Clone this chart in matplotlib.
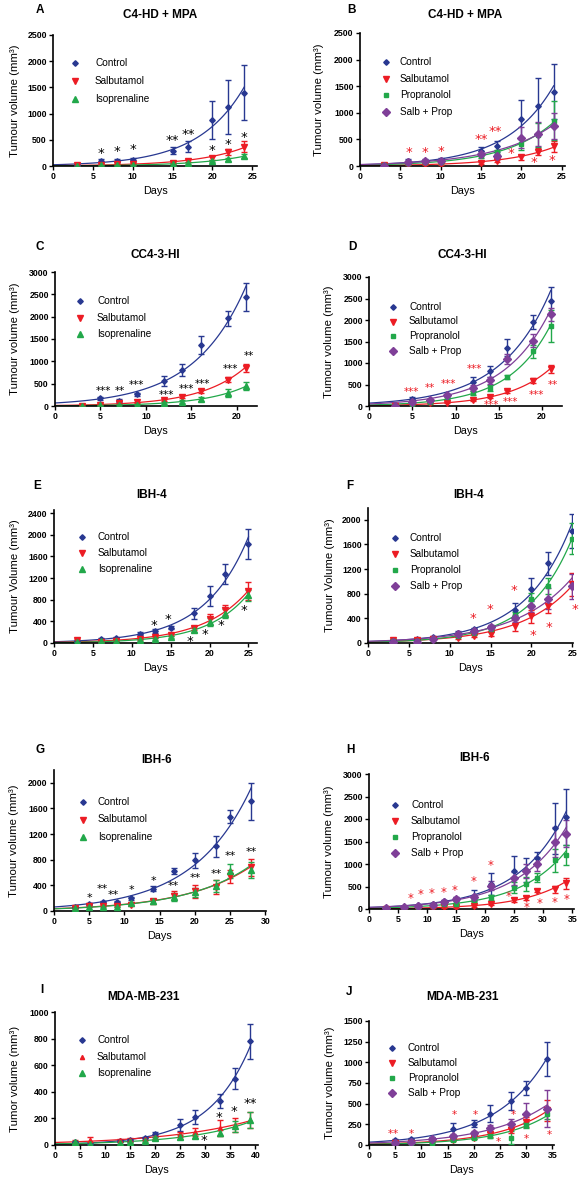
import numpy as np
import matplotlib
matplotlib.use('Agg')
import matplotlib.pyplot as plt
from matplotlib.lines import Line2D
from matplotlib.transforms import offset_copy

plt.rcParams['font.family'] = ['Liberation Sans', 'DejaVu Sans']

W, H = 584, 1181

# ---- data ----
# A / B : C4-HD + MPA
A_days = [3, 6, 8, 10, 15, 17, 20, 22, 24]
A_control = [20, 90, 100, 120, 290, 370, 880, 1130, 1400]
A_control_err = [10, 40, 30, 30, 70, 100, 360, 520, 520]
A_salb = [10, 20, 40, 40, 60, 100, 160, 270, 370]
A_salb_err = [5, 10, 15, 15, 20, 25, 40, 60, 100]
A_iso = [5, 10, 15, 20, 40, 60, 100, 130, 190]
A_iso_err = [5, 5, 10, 10, 10, 15, 20, 30, 40]
A_star_x = [6, 8, 10, 15, 17, 20, 22, 24]
A_star_y = [300, 350, 375, 555, 670, 363, 470, 605]
A_star_txt = ['*', '*', '*', '**', '**', '*', '*', '*']

B_days = [3, 6, 8, 10, 15, 17, 20, 22, 24]
B_control = [20, 90, 100, 120, 290, 370, 880, 1130, 1400]
B_control_err = [10, 40, 30, 30, 70, 100, 360, 520, 520]
B_salb = [10, 20, 40, 40, 60, 100, 160, 270, 370]
B_salb_err = [5, 10, 15, 15, 20, 25, 40, 60, 100]
B_prop = [10, 60, 70, 80, 190, 260, 420, 580, 850]
B_prop_err = [5, 15, 15, 20, 40, 50, 110, 220, 370]
B_sp = [5, 80, 100, 100, 230, 180, 530, 600, 750]
B_sp_err = [5, 20, 20, 20, 50, 40, 200, 230, 250]
B_star_x = [6, 8, 10, 15, 16.8, 18.7, 21.6, 23.8]
B_star_y = [312, 325, 344, 563, 713, 294, 137, 175]
B_star_txt = ['*', '*', '*', '**', '**', '*', '*', '*']

# C / D : CC4-3-HI
C_control_days = [5, 7, 9, 12, 14, 16, 19, 21]
C_control = [170, 120, 260, 560, 810, 1360, 1960, 2440]
C_control_err = [30, 30, 30, 120, 130, 200, 160, 320]
C_days = [3, 5, 7, 9, 12, 14, 16, 19, 21]
C_salb = [10, 30, 60, 80, 130, 210, 340, 590, 860]
C_salb_err = [5, 10, 10, 15, 20, 30, 40, 50, 90]
C_iso = [5, 15, 30, 30, 70, 100, 160, 290, 440]
C_iso_err = [5, 5, 10, 10, 20, 40, 40, 90, 90]
C_star_x = [5.3, 7.1, 9.0, 12.2, 14.4, 16.2, 19.3, 21.3]
C_star_y = [390, 390, 540, 310, 450, 550, 880, 1170]
C_star_txt = ['***', '**', '***', '***', '***', '***', '***', '**']

D_control_days = [5, 7, 9, 12, 14, 16, 19, 21]
D_control = [170, 120, 260, 560, 810, 1360, 1960, 2440]
D_control_err = [30, 30, 30, 120, 130, 200, 160, 320]
D_days = [3, 5, 7, 9, 12, 14, 16, 19, 21]
D_salb = [10, 30, 60, 80, 130, 210, 340, 590, 860]
D_salb_err = [5, 10, 10, 15, 20, 30, 40, 50, 90]
D_prop = [10, 50, 100, 200, 300, 420, 680, 1270, 1860]
D_prop_err = [5, 10, 20, 30, 40, 60, 50, 150, 380]
D_sp = [5, 100, 150, 250, 420, 600, 1100, 1520, 2130]
D_sp_err = [5, 20, 20, 30, 60, 80, 120, 150, 150]
D_star_x = [4.9, 7.0, 9.2, 12.2, 14.2, 16.3, 19.4, 21.3]
D_star_y = [400, 480, 580, 930, 90, 155, 325, 560]
D_star_txt = ['***', '**', '***', '***', '***', '***', '***', '**']

# E / F : IBH-4
E_days = [3, 6, 8, 11, 13, 15, 18, 20, 22, 25]
E_control = [30, 70, 100, 170, 220, 280, 550, 870, 1280, 1830]
E_control_err = [10, 15, 20, 25, 30, 30, 100, 180, 190, 280]
E_salb = [50, 20, 40, 70, 110, 150, 280, 440, 610, 960]
E_salb_err = [15, 10, 10, 15, 20, 25, 40, 100, 100, 170]
E_iso = [20, 30, 40, 50, 70, 110, 240, 390, 540, 880]
E_iso_err = [10, 10, 10, 15, 20, 25, 40, 70, 80, 100]
E_star_x = [12.8, 14.7, 17.5, 19.4, 21.5, 24.4]
E_star_y = [380, 490, 90, 215, 380, 670]
E_star_txt = ['*', '*', '*', '*', '*', '*']

F_days = [3, 6, 8, 11, 13, 15, 18, 20, 22, 25]
F_control = [50, 70, 90, 170, 220, 260, 540, 870, 1290, 1820]
F_control_err = [10, 15, 20, 25, 30, 40, 110, 190, 190, 280]
F_salb = [50, 50, 70, 80, 110, 150, 280, 430, 600, 950]
F_salb_err = [10, 10, 15, 15, 20, 30, 90, 100, 110, 180]
F_prop = [30, 40, 60, 120, 170, 230, 450, 720, 920, 1690]
F_prop_err = [10, 10, 15, 20, 30, 30, 60, 90, 130, 250]
F_sp = [20, 10, 60, 140, 200, 260, 400, 600, 720, 920]
F_sp_err = [10, 10, 15, 20, 30, 40, 60, 90, 170, 200]
F_star_x = [12.9, 14.9, 17.9, 20.2, 22.1, 25.3]
F_star_y = [450, 600, 900, 185, 300, 595]
F_star_txt = ['*', '*', '*', '*', '*', '*']

# G / H : IBH-6
G_days = [3, 5, 7, 9, 11, 14, 17, 20, 23, 25, 28]
G_control = [60, 110, 140, 140, 200, 350, 620, 790, 1010, 1470, 1710]
G_control_err = [15, 20, 20, 20, 25, 40, 50, 120, 160, 100, 290]
G_salb = [40, 80, 80, 80, 100, 150, 240, 310, 380, 540, 680]
G_salb_err = [10, 15, 15, 15, 20, 40, 70, 100, 110, 100, 130]
G_iso = [50, 70, 60, 70, 120, 150, 220, 290, 390, 620, 640]
G_iso_err = [10, 15, 15, 15, 20, 40, 60, 70, 90, 110, 120]
G_star_x = [5, 6.9, 8.4, 11, 14.1, 17, 20, 23, 25, 28]
G_star_y = [245, 390, 290, 365, 520, 430, 560, 620, 900, 970]
G_star_txt = ['*', '**', '**', '*', '*', '**', '**', '**', '**', '**']

H_days = [3, 6, 8.5, 11, 13, 15, 18, 21, 25, 27, 29, 32, 34]
H_control = [20, 50, 80, 110, 170, 220, 300, 560, 840, 860, 1140, 1790, 2050]
H_control_err = [10, 15, 20, 20, 30, 40, 130, 250, 330, 270, 130, 570, 620]
H_salb = [10, 10, 20, 30, 40, 40, 70, 110, 200, 240, 410, 440, 570]
H_salb_err = [5, 5, 5, 10, 10, 15, 20, 30, 40, 50, 40, 80, 130]
H_prop = [20, 30, 50, 80, 110, 110, 190, 260, 470, 560, 700, 1080, 1200]
H_prop_err = [10, 10, 10, 15, 20, 20, 40, 60, 120, 150, 100, 250, 220]
H_sp = [20, 40, 60, 100, 160, 220, 260, 520, 680, 840, 1000, 1490, 1670]
H_sp_err = [10, 10, 15, 20, 30, 40, 60, 100, 150, 150, 150, 330, 300]
H_star_x = [7.2, 8.8, 10.7, 12.9, 14.8, 18, 21, 24, 27.1, 29.3, 32, 34]
H_star_y = [298, 395, 410, 432, 484, 685, 1028, 357, 97, 201, 208, 275]
H_star_txt = ['*'] * 12

# I / J : MDA-MB-231
I_days = [4, 7, 13, 15, 18, 20, 25, 28, 33, 36, 39]
I_control = [20, 10, 30, 35, 50, 80, 150, 210, 330, 500, 780]
I_control_err = [5, 5, 10, 10, 10, 20, 45, 50, 50, 80, 130]
I_salb = [25, 40, 35, 40, 45, 60, 80, 100, 130, 150, 190]
I_salb_err = [10, 20, 10, 10, 10, 15, 20, 30, 60, 50, 60]
I_iso = [20, 10, 15, 20, 30, 50, 60, 70, 90, 140, 190]
I_iso_err = [10, 5, 5, 5, 10, 10, 15, 15, 20, 40, 60]
I_star_x = [29.7, 32.7, 35.7, 39]
I_star_y = [62, 230, 280, 337]
I_star_txt = ['*', '*', '*', '**']

J_days = [5, 8, 12, 16, 20, 23, 27, 30, 34]
J_control = [60, 70, 80, 190, 260, 380, 530, 690, 1040]
J_control_err = [15, 15, 20, 80, 40, 100, 110, 90, 210]
J_salb = [20, 30, 50, 60, 90, 130, 180, 280, 420]
J_salb_err = [5, 10, 10, 15, 20, 30, 40, 60, 130]
J_prop = [20, 20, 30, 60, 90, 110, 90, 240, 380]
J_prop_err = [5, 5, 10, 15, 20, 25, 80, 40, 60]
J_sp = [30, 40, 70, 110, 140, 200, 260, 380, 440]
J_sp_err = [10, 10, 15, 20, 30, 40, 60, 130, 220]
J_star_x = [4, 5, 8, 16.3, 20.3, 24.6, 27.6, 30, 34.4]
J_star_y = [160, 160, 160, 390, 400, 70, 400, 100, 150]
J_star_txt = ['*'] * 9

# ---- styles ----
BLUE, RED, GREEN, PURPLE = '#283891', '#ec1c24', '#22a84a', '#7f3f98'
STYLE = {
    'Control': dict(color=BLUE, marker='D', ms=2.8),
    'Salbutamol': dict(color=RED, marker='v', ms=4),
    'Isoprenaline': dict(color=GREEN, marker='^', ms=4),
    'Propranolol': dict(color=GREEN, marker='s', ms=3),
    'Salb + Prop': dict(color=PURPLE, marker='D', ms=3.8),
}
I_SALB_STYLE = dict(color=RED, marker='^', ms=3)

PANELS = [
    dict(letter='A', title='C4-HD + MPA', rect=(53, 257, 35, 166), xlim=25.6, ylim=2500,
         xt=5, yt=500, xmax=25, title_xy=(160, 15), letter_xy=(40, 10),
         ylabel='Tumour volume (mm³)', ylabel_x=15, leg=(75, 95, 63, 18), star_color='black',
         series=[('Control', A_days, A_control, A_control_err),
                 ('Salbutamol', A_days, A_salb, A_salb_err),
                 ('Isoprenaline', A_days, A_iso, A_iso_err)],
         stars=(A_star_x, A_star_y, A_star_txt)),
    dict(letter='B', title='C4-HD + MPA', rect=(360, 565, 33, 166), xlim=25.4, ylim=2500,
         xt=5, yt=500, xmax=25, title_xy=(465, 15), letter_xy=(352, 10),
         ylabel='Tumour volume (mm³)', ylabel_x=319, leg=(386, 400, 62, 16.7), star_color=RED,
         series=[('Control', B_days, B_control, B_control_err),
                 ('Salbutamol', B_days, B_salb, B_salb_err),
                 ('Propranolol', B_days, B_prop, B_prop_err),
                 ('Salb + Prop', B_days, B_sp, B_sp_err)],
         stars=(B_star_x, B_star_y, B_star_txt)),
    dict(letter='C', title='CC4-3-HI', rect=(55, 257, 272, 406), xlim=22.2, ylim=3000,
         xt=5, yt=500, xmax=20, title_xy=(155, 255), letter_xy=(40, 247),
         ylabel='Tumour volume (mm³)', ylabel_x=15, leg=(80, 97, 301, 16.7), star_color='black',
         series=[('Control', C_control_days, C_control, C_control_err),
                 ('Salbutamol', C_days, C_salb, C_salb_err),
                 ('Isoprenaline', C_days, C_iso, C_iso_err)],
         stars=(C_star_x, C_star_y, C_star_txt), star_size=7.5),
    dict(letter='D', title='CC4-3-HI', rect=(369, 562, 277, 406), xlim=22.3, ylim=3000,
         xt=5, yt=500, xmax=20, title_xy=(462, 255), letter_xy=(352, 247),
         ylabel='Tumour volume (mm³)', ylabel_x=329, leg=(393, 409, 307, 14.5), star_color=RED,
         series=[('Control', D_control_days, D_control, D_control_err),
                 ('Salbutamol', D_days, D_salb, D_salb_err),
                 ('Propranolol', D_days, D_prop, D_prop_err),
                 ('Salb + Prop', D_days, D_sp, D_sp_err)],
         stars=(D_star_x, D_star_y, D_star_txt), star_size=7.5),
    dict(letter='E', title='IBH-4', rect=(54, 257, 510, 643), xlim=26.1, ylim=2460,
         xt=5, yt=400, xmax=25, title_xy=(152, 495), letter_xy=(37, 486),
         ylabel='Tumour Volume (mm³)', ylabel_x=15, leg=(82, 98, 537, 16), star_color='black',
         series=[('Control', E_days, E_control, E_control_err),
                 ('Salbutamol', E_days, E_salb, E_salb_err),
                 ('Isoprenaline', E_days, E_iso, E_iso_err)],
         stars=(E_star_x, E_star_y, E_star_txt)),
    dict(letter='F', title='IBH-4', rect=(368, 573, 508, 643), xlim=25.1, ylim=2190,
         xt=5, yt=400, xmax=25, title_xy=(469, 495), letter_xy=(350, 486),
         ylabel='Tumour Volume (mm³)', ylabel_x=330, leg=(395, 410, 538, 16), star_color=RED,
         series=[('Control', F_days, F_control, F_control_err),
                 ('Salbutamol', F_days, F_salb, F_salb_err),
                 ('Propranolol', F_days, F_prop, F_prop_err),
                 ('Salb + Prop', F_days, F_sp, F_sp_err)],
         stars=(F_star_x, F_star_y, F_star_txt)),
    dict(letter='G', title='IBH-6', rect=(54, 266, 770, 911), xlim=30.1, ylim=2200,
         xt=5, yt=400, xmax=30, ymax_tick=2000, title_xy=(157, 760), letter_xy=(40, 750),
         ylabel='Tumour volume (mm³)', ylabel_x=14, leg=(83, 98, 802, 17.5), star_color='black',
         series=[('Control', G_days, G_control, G_control_err),
                 ('Salbutamol', G_days, G_salb, G_salb_err),
                 ('Isoprenaline', G_days, G_iso, G_iso_err)],
         stars=(G_star_x, G_star_y, G_star_txt), star_size=8),
    dict(letter='H', title='IBH-6', rect=(369, 574, 774, 909), xlim=35.3, ylim=3000,
         xt=5, yt=500, xmax=35, title_xy=(475, 758), letter_xy=(350, 750),
         ylabel='Tumour volume (mm³)', ylabel_x=329, leg=(395, 411, 805, 16), star_color=RED,
         series=[('Control', H_days, H_control, H_control_err),
                 ('Salbutamol', H_days, H_salb, H_salb_err),
                 ('Propranolol', H_days, H_prop, H_prop_err),
                 ('Salb + Prop', H_days, H_sp, H_sp_err)],
         stars=(H_star_x, H_star_y, H_star_txt), star_size=8.5),
    dict(letter='I', title='MDA-MB-231', rect=(55, 258, 1012, 1145), xlim=40.5, ylim=1000,
         xt=5, yt=200, xmax=40, title_xy=(143, 997), letter_xy=(42, 990),
         ylabel='Tumor volume (mm³)', ylabel_x=15, leg=(82, 97, 1040, 16.5), star_color='black',
         series=[('Control', I_days, I_control, I_control_err),
                 ('Salbutamol', I_days, I_salb, I_salb_err),
                 ('Isoprenaline', I_days, I_iso, I_iso_err)],
         stars=(I_star_x, I_star_y, I_star_txt), salb_style=I_SALB_STYLE),
    dict(letter='J', title='MDA-MB-231', rect=(369, 554, 1021, 1145), xlim=35.3, ylim=1500,
         xt=5, yt=250, xmax=35, title_xy=(462, 997), letter_xy=(349, 992),
         ylabel='Tumour volume (mm³)', ylabel_x=330, leg=(392, 408, 1048, 15), star_color=RED,
         series=[('Control', J_days, J_control, J_control_err),
                 ('Salbutamol', J_days, J_salb, J_salb_err),
                 ('Propranolol', J_days, J_prop, J_prop_err),
                 ('Salb + Prop', J_days, J_sp, J_sp_err)],
         stars=(J_star_x, J_star_y, J_star_txt), star_size=7.5),
]


def fy(y):
    return 1 - y / H


def exp_fit(days, vals):
    # exponential growth fit, as drawn through the points in the original
    d = np.asarray(days, float)
    v = np.asarray(vals, float)
    b, a = np.polyfit(d, np.log(v), 1, w=np.sqrt(v))
    xs = np.linspace(0, d.max(), 120)
    return xs, np.exp(a + b * xs)


fig = plt.figure(figsize=(W / 100, H / 100), dpi=100)

for p in PANELS:
    left, right, top, bottom = p['rect']
    ax = fig.add_axes([left / W, fy(bottom), (right - left) / W, (bottom - top) / H])
    for name, days, vals, err in p['series']:
        st = dict(STYLE[name])
        if name == 'Salbutamol' and 'salb_style' in p:
            st = dict(p['salb_style'])
        xs, ys = exp_fit(days, vals)
        ax.plot(xs, ys, color=st['color'], lw=0.9, zorder=2)
        ax.errorbar(days, vals, yerr=err, fmt=st['marker'], color=st['color'], ms=st['ms'],
                    elinewidth=1, capsize=2, capthick=1, zorder=3)

    # significance stars (asterisk glyph sits high, so nudge it down)
    size = p.get('star_size', 9.5)
    star_tr = offset_copy(ax.transData, fig=fig, x=0, y=-size * 0.26, units='points')
    sx, sy, stxt = p['stars']
    for x, y, t in zip(sx, sy, stxt):
        ax.text(x, y, t, color=p['star_color'], fontsize=size, ha='center', va='center',
                family='DejaVu Sans', transform=star_tr, zorder=4)

    ax.set_xlim(0, p['xlim'])
    ax.set_ylim(0, p['ylim'])
    ax.set_xticks(np.arange(0, p['xmax'] + 0.1, p['xt']))
    ymax_tick = p.get('ymax_tick', p['ylim'])
    ax.set_yticks(np.arange(0, ymax_tick + 1, p['yt']))
    for s in ['top', 'right']:
        ax.spines[s].set_visible(False)
    for s in ['left', 'bottom']:
        ax.spines[s].set_linewidth(1.2)
    ax.tick_params(length=3, width=1, pad=1.5, labelsize=6.3)
    for lab in ax.get_xticklabels() + ax.get_yticklabels():
        lab.set_fontweight('bold')

    # labels / titles
    fig.text((left + right) / 2 / W, fy(bottom + 25), 'Days', ha='center', va='center', fontsize=7.8)
    fig.text(p['ylabel_x'] / W, fy((top + bottom) / 2), p['ylabel'], rotation=90,
             ha='center', va='center', fontsize=8.2)
    fig.text(p['title_xy'][0] / W, fy(p['title_xy'][1]), p['title'], ha='center', va='center',
             fontsize=8.5, fontweight='bold')
    fig.text(p['letter_xy'][0] / W, fy(p['letter_xy'][1]), p['letter'], ha='center', va='center',
             fontsize=8.5, fontweight='bold')

    # legend
    mx, tx, y0, dy = p['leg']
    for i, (name, _, _, _) in enumerate(p['series']):
        st = dict(STYLE[name])
        if name == 'Salbutamol' and 'salb_style' in p:
            st = dict(p['salb_style'])
        y = y0 + i * dy
        fig.add_artist(Line2D([mx / W], [fy(y)], transform=fig.transFigure, linestyle='none',
                              marker=st['marker'], color=st['color'], ms=st['ms']))
        fig.text(tx / W, fy(y), name, ha='left', va='center', fontsize=7.2)

fig.savefig('out.png', dpi=100)
